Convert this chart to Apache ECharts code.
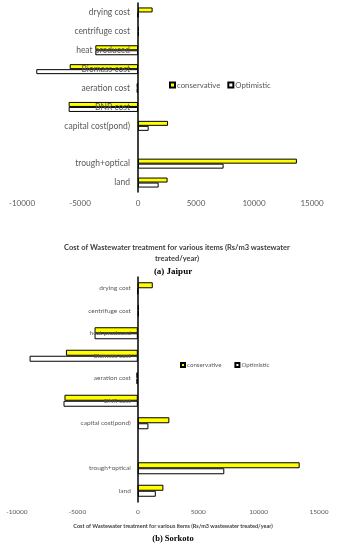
<!DOCTYPE html>
<html><head><meta charset="utf-8">
<script src="https://cdn.jsdelivr.net/npm/echarts@6/dist/echarts.min.js"></script>
<style>html,body{margin:0;padding:0;background:#fff}#c{width:337px;height:550px}</style>
</head><body><div id="c"></div>
<script>
var categories = ['land','trough+optical','','capital cost(pond)','BNR cost','aeration cost','Biomass cost','heat produced','centrifuge cost','drying cost'];
var xTicks = [-10000,-5000,0,5000,10000,15000];
var jaipurConservative = [2550,13700,null,2590,-5980,-120,-5890,-3680,80,1260];
var jaipurOptimistic   = [1780,7380,null,920,-5980,-120,-8770,-3680,80,0];
var sorkotoConservative = [2120,13400,null,2610,-6070,-120,-5950,-3580,80,1240];
var sorkotoOptimistic   = [1490,7160,null,880,-6150,-120,-8960,-3580,80,0];

var W = 337;
var grids = [
  {left:22, right:25, top:3, height:189},
  {left:17, right:18, top:277, height:225}
];
var xMin = xTicks[0], xMax = xTicks[xTicks.length-1];
function zeroOffset(g){
  var w = W - g.left - g.right;
  return -w * (0 - xMin) / (xMax - xMin);
}
var chart = echarts.init(document.getElementById('c'));
var grey = '#595959';
function xAx(idx, fs, margin){
  return {type:'value', gridIndex:idx, min:xMin, max:xMax, interval:xTicks[1]-xTicks[0],
    axisLine:{show:false}, axisTick:{show:false}, splitLine:{show:false},
    axisLabel:{color:grey, fontSize:fs, fontFamily:'Lato', margin:margin, formatter:function(v){return String(v);}}};
}
function yAx(idx, fs, margin){
  return {type:'category', gridIndex:idx, data:categories, offset:zeroOffset(grids[idx]),
    axisLine:{show:true, onZero:false, lineStyle:{color:'#000', width:1.5}},
    axisTick:{show:false}, z:3,
    axisLabel:{color:grey, fontSize:fs, fontFamily:'Lato', margin:margin, interval:0}};
}
function bar(name, data, idx, color, bw){
  return {type:'bar', name:name, data:data, xAxisIndex:idx, yAxisIndex:idx,
    barWidth:bw, barGap:'0%', itemStyle:{color:color, borderColor:'#000', borderWidth:1}};
}
chart.setOption({
  animation:false,
  grid:grids.map(function(g){return Object.assign({containLabel:false, outerBoundsMode:'none'}, g);}),
  xAxis:[xAx(0,8,7), xAx(1,6.5,6)],
  yAxis:[yAx(0,8.5,8), yAx(1,6.5,7)],
  legend:[
    {left:164, top:76, itemWidth:5, itemHeight:5, itemGap:7, icon:'rect',
     textStyle:{color:grey, fontSize:7.8, fontFamily:'Lato', padding:[0,0,0,-3]},
     data:['conservative','Optimistic']},
    {left:175, top:357, itemWidth:4, itemHeight:4, itemGap:13, icon:'rect',
     textStyle:{color:grey, fontSize:6.2, fontFamily:'Lato', padding:[0,0,0,-3]},
     data:['conservative','Optimistic']}
  ],
  title:[
    {text:'Cost of Wastewater treatment for various items (Rs/m3 wastewater\ntreated/year)',
     left:172, top:237, textAlign:'center',
     textStyle:{fontSize:7.5, fontWeight:'bold', color:'#404040', fontFamily:'Lato', lineHeight:11}},
    {text:'{n|(a) }{b|Jaipur}', left:168, top:262, textAlign:'center',
     textStyle:{rich:{n:{fontSize:9,fontFamily:'Liberation Serif',color:'#000'},b:{fontSize:9,fontWeight:'bold',fontFamily:'Liberation Serif',color:'#000'}}}},
    {text:'Cost of Wastewater treatment for various items (Rs/m3 wastewater treated/year)',
     left:168, top:518, textAlign:'center',
     textStyle:{fontSize:5.5, fontWeight:'bold', color:'#404040', fontFamily:'Lato'}},
    {text:'{n|(b) }{b|Sorkoto}', left:168, top:529, textAlign:'center',
     textStyle:{rich:{n:{fontSize:8.5,fontFamily:'Liberation Serif',color:'#000'},b:{fontSize:8.5,fontWeight:'bold',fontFamily:'Liberation Serif',color:'#000'}}}}
  ],
  series:[
    bar('conservative', jaipurConservative, 0, '#FFFF00', 5),
    bar('Optimistic', jaipurOptimistic, 0, '#FFFFFF', 5),
    bar('conservative', sorkotoConservative, 1, '#FFFF00', 6),
    bar('Optimistic', sorkotoOptimistic, 1, '#FFFFFF', 6)
  ]
});
</script></body></html>
